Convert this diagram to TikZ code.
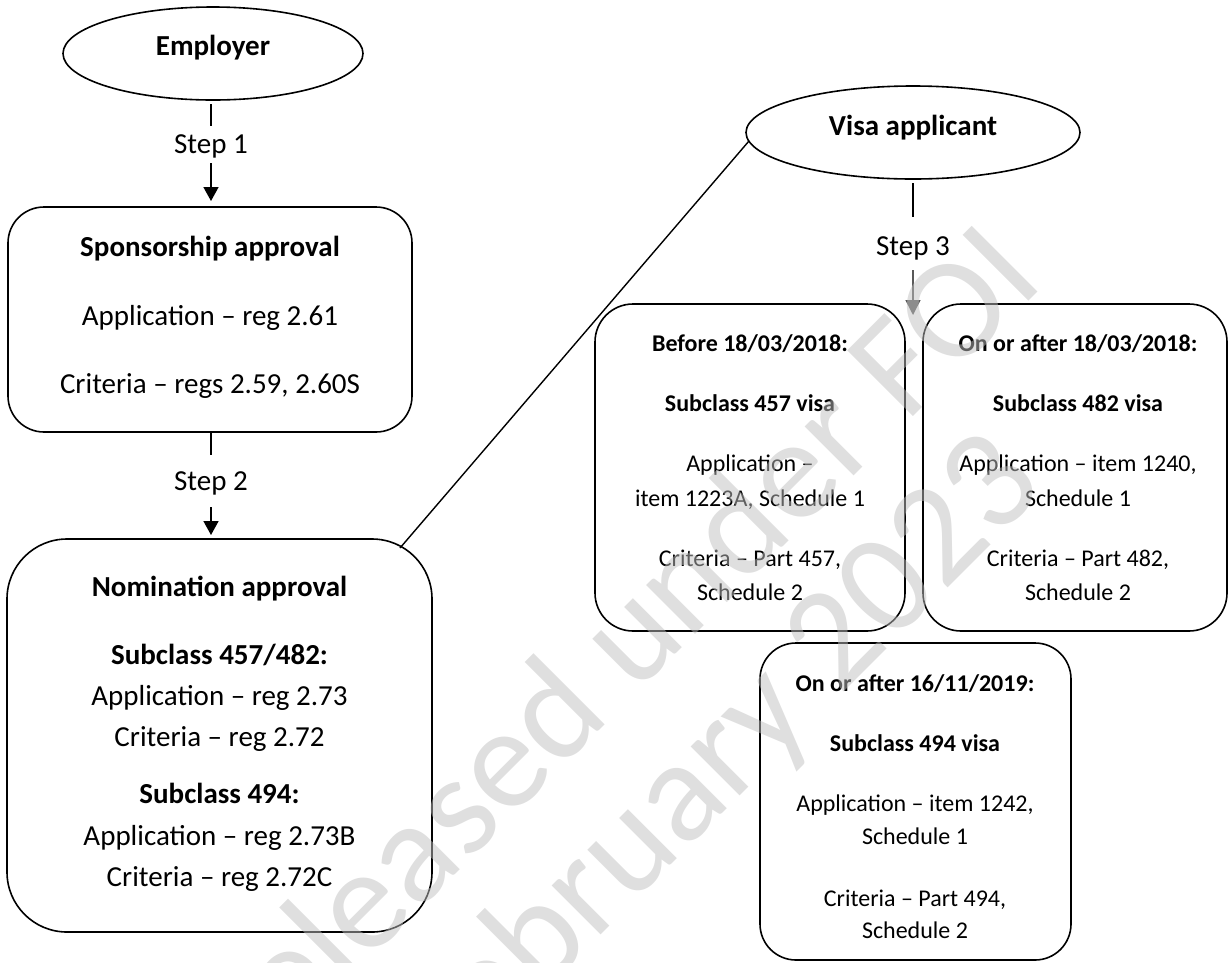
\documentclass[tikz,border=0pt]{standalone}
\usepackage{fontspec}
\setmainfont{Carlito}
\usetikzlibrary{arrows.meta,shapes.geometric}

\definecolor{arrowgray}{RGB}{89,89,89}
\definecolor{wmgray}{RGB}{191,191,191}

\begin{document}
\begin{tikzpicture}[x=1pt,y=-1pt,
  every node/.style={inner sep=0pt, outer sep=0pt},
  outline/.style={draw=black, line width=1.6pt},
  oval/.style={outline, ellipse, minimum height=93pt},
  card/.style={outline, rectangle, rounded corners=#1},
  bigtxt/.style={font=\fontsize{29}{35}\selectfont, anchor=base},
  smalltxt/.style={font=\fontsize{24}{29}\selectfont, anchor=base},
  steplabel/.style={font=\fontsize{29}{35}\selectfont, anchor=base,
                    text height=19pt, text depth=6pt},
  stepline/.style={line width=1.6pt},
  steparrow/.style={line width=1.6pt, -{Triangle[length=14pt,width=15pt]}},
  grayarrow/.style={line width=1.6pt, draw=arrowgray,
                    -{Triangle[length=15pt,width=15pt]}},
  link/.style={line width=1.4pt},
  wm/.style={font=\fontsize{145}{160}\selectfont, text=wmgray,
             text opacity=0.5, anchor=base, rotate=45}
]
\useasboundingbox (0,0) rectangle (1229,962);

% ---- actors ----
\node[oval, minimum width=300pt] (emp) at (213,53.5) {};
\node[bigtxt] (emp-t) at (213,55) {\bfseries Employer};
\node[oval, minimum width=334pt] (visa) at (913,132.5) {};
\node[bigtxt] (visa-t) at (913,135) {\bfseries Visa applicant};

% ---- approval boxes ----
\node[card=36pt, minimum width=404pt, minimum height=225pt] (spons) at (210,319.5) {};
\node[card=60pt, minimum width=425pt, minimum height=393pt] (nom) at (219.5,735.5) {};
\node[card=38pt, minimum width=310pt, minimum height=327pt] (v457) at (750,467.5) {};
\node[card=38pt, minimum width=304pt, minimum height=327pt] (v482) at (1075,467.5) {};
\node[card=36pt, minimum width=311pt, minimum height=317pt] (v494) at (915.5,801.5) {};

% ---- box contents ----
\foreach \t/\b [count=\i] in {{\bfseries Sponsorship approval}/256,
    {Application – reg 2.61}/325, {Criteria – regs 2.59, 2.60S}/393}
  \node[bigtxt] (sp\i) at (210,\b) {\t};

\foreach \t/\b [count=\i] in {{\bfseries Nomination approval}/596,
    {\bfseries Subclass 457/482:}/664, {Application – reg 2.73}/705,
    {Criteria – reg 2.72}/746, {\bfseries Subclass 494:}/803,
    {Application – reg 2.73B}/845, {Criteria – reg 2.72C}/886}
  \node[bigtxt] (nm\i) at (219.5,\b) {\t};

\foreach \t/\b [count=\i] in {{\bfseries Before 18/03/2018:}/351,
    {\bfseries Subclass 457 visa}/411, {Application –}/471,
    {item 1223A, Schedule 1}/506, {Criteria – Part 457,}/566, {Schedule 2}/600}
  \node[smalltxt] (a\i) at (750,\b) {\t};

\foreach \t/\b [count=\i] in {{\bfseries On or after 18/03/2018:}/351,
    {\bfseries Subclass 482 visa}/411, {Application – item 1240,}/471,
    {Schedule 1}/506, {Criteria – Part 482,}/566, {Schedule 2}/600}
  \node[smalltxt] (b\i) at (1078,\b) {\t};

\foreach \t/\b [count=\i] in {{\bfseries On or after 16/11/2019:}/691,
    {\bfseries Subclass 494 visa}/751, {Application – item 1242,}/811,
    {Schedule 1}/844, {Criteria – Part 494,}/906, {Schedule 2}/938}
  \node[smalltxt] (c\i) at (915,\b) {\t};

% ---- step labels ----
\node[steplabel] (s1) at (211,153) {Step 1};
\node[steplabel] (s2) at (211,490) {Step 2};
\node[steplabel] (s3) at (913,255) {Step 3};
\coordinate (s3end) at (913,315);

% ---- connectors ----
\draw[stepline, shorten <=4pt, shorten >=8pt] (emp.south -| s1) -- (s1.north);
\draw[steparrow, shorten <=4pt, shorten >=6pt] (s1.south) -- (s1 |- spons.north);

\draw[stepline, shorten <=1pt, shorten >=16pt] (spons.south -| s2) -- (s2.north);
\draw[steparrow, shorten <=11pt, shorten >=4pt] (s2.south) -- (s2 |- nom.north);

\draw[stepline, shorten <=4pt, shorten >=19pt] (visa.south -| s3) -- (s3.north);
\draw[grayarrow, shorten <=9pt] (s3.south) -- (s3end);

\draw[link] (visa.183) -- ([xshift=-32pt,yshift=-9pt]nom.north east);

% ---- watermark ----
\node[wm] (wm1) at (642.5,687.5) {Released under FOI};
\node[wm] (wm2) at (745.5,790.5) {February 2023};
\end{tikzpicture}
\end{document}
